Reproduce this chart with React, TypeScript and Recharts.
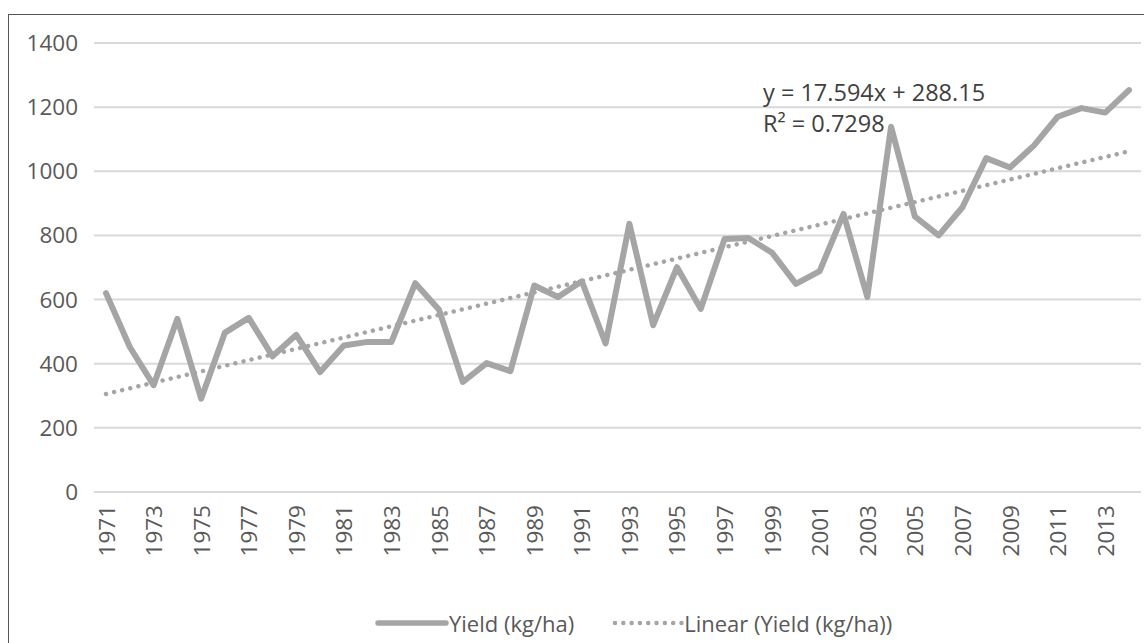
import React from 'react';
import { LineChart, Line, XAxis, YAxis, CartesianGrid, Legend } from 'recharts';

const years = [
  '1971', '1972', '1973', '1974', '1975', '1976', '1977', '1978', '1979', '1980',
  '1981', '1982', '1983', '1984', '1985', '1986', '1987', '1988', '1989', '1990',
  '1991', '1992', '1993', '1994', '1995', '1996', '1997', '1998', '1999', '2000',
  '2001', '2002', '2003', '2004', '2005', '2006', '2007', '2008', '2009', '2010',
  '2011', '2012', '2013', '2014',
];

const yieldKgHa = [
  620, 452, 333, 540, 291, 497, 543, 423, 490, 374,
  457, 468, 468, 651, 568, 343, 402, 377, 644, 608,
  657, 463, 836, 520, 701, 571, 789, 792, 746, 649,
  689, 867, 608, 1139, 859, 800, 888, 1041, 1012, 1080,
  1170, 1197, 1183, 1253,
];

// linear trend end points (from y = 17.594x + 288.15 shown on the chart)
const trendEnds = [305.74, 1062.29];

const yTicks = [0, 200, 400, 600, 800, 1000, 1200, 1400];

const data = years.map((year, i) => ({
  year,
  yield: yieldKgHa[i],
  trend: i === 0 ? trendEnds[0] : i === years.length - 1 ? trendEnds[1] : null,
}));

const FONT = '"Open Sans", "Noto Sans", sans-serif';
const GREY = '#a5a5a5';
const TEXT = '#595959';

const YearTick = (props: any) => {
  const { x, y, payload } = props;
  return (
    <text
      x={x}
      y={y}
      transform={`rotate(-90, ${x}, ${y})`}
      textAnchor="end"
      dominantBaseline="central"
      fontSize={22.5}
      fontFamily={FONT}
      fill={TEXT}
    >
      {payload.value}
    </text>
  );
};

const LegendContent = () => (
  <div style={{ display: 'flex', alignItems: 'center', paddingLeft: 366, height: 40, fontFamily: FONT, fontSize: 22, color: TEXT }}>
    <svg width={74} height={10}>
      <line x1={3} y1={5} x2={71} y2={5} stroke={GREY} strokeWidth={5.5} strokeLinecap="round" />
    </svg>
    <span>Yield (kg/ha)</span>
    <svg width={72} height={10} style={{ marginLeft: 38 }}>
      <line x1={3} y1={5} x2={70} y2={5} stroke={GREY} strokeWidth={4.5} strokeLinecap="round" strokeDasharray="0.01 8.3" />
    </svg>
    <span>Linear (Yield (kg/ha))</span>
  </div>
);

export default function App() {
  return (
    <div style={{ position: 'fixed', left: 8, top: 14, width: 1136, height: 629, borderTop: '1px solid #555', borderLeft: '1px solid #555', background: '#fff', overflow: 'hidden' }}>
      <LineChart width={1135} height={628} data={data} margin={{ top: 28, right: 3, left: 0, bottom: 0 }}>
        <CartesianGrid vertical={false} stroke="#d9d9d9" strokeWidth={2} />
        <XAxis
          dataKey="year"
          interval={1}
          axisLine={false}
          tickLine={false}
          tickSize={0}
          tickMargin={13}
          height={111}
          padding={{ left: 12, right: 12 }}
          tick={<YearTick />}
        />
        <YAxis
          domain={[0, 1400]}
          ticks={yTicks}
          width={85}
          axisLine={false}
          tickLine={false}
          tickMargin={10}
          tick={{ fill: TEXT, fontSize: 22.5, fontFamily: FONT }}
        />
        <Legend verticalAlign="bottom" height={40} content={<LegendContent />} />
        <Line
          dataKey="trend"
          connectNulls
          stroke={GREY}
          strokeWidth={4.5}
          strokeLinecap="round"
          strokeDasharray="0.01 8.3"
          dot={false}
          activeDot={false}
          isAnimationActive={false}
        />
        <Line
          dataKey="yield"
          stroke={GREY}
          strokeWidth={6}
          strokeLinejoin="round"
          strokeLinecap="round"
          dot={false}
          activeDot={false}
          isAnimationActive={false}
        />
      </LineChart>
      <div style={{ position: 'absolute', left: 754, top: 62, fontFamily: FONT, fontSize: 23.5, lineHeight: '31px', color: '#404040', whiteSpace: 'nowrap' }}>
        <div>y = 17.594x + 288.15</div>
        <div>R² = 0.7298</div>
      </div>
    </div>
  );
}
